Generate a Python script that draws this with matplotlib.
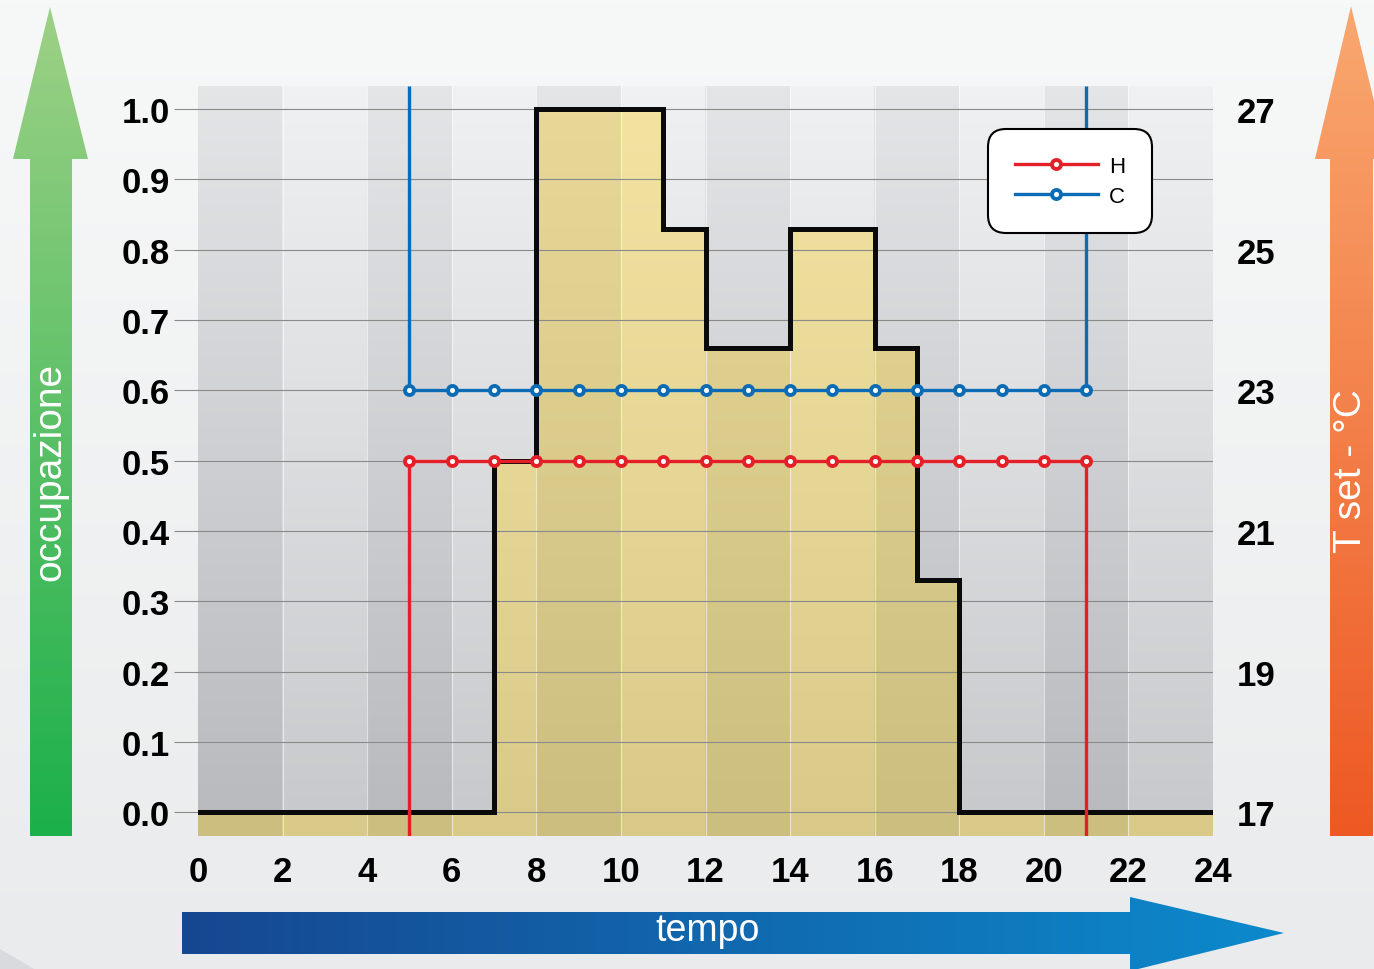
import numpy as np
import matplotlib
matplotlib.use("Agg")
import matplotlib.pyplot as plt
from matplotlib.patches import Polygon

plt.rcParams['font.family'] = ['Liberation Sans', 'DejaVu Sans']

# ---- data -------------------------------------------------------------
hours = list(range(0, 25))
occupancy = [0, 0, 0, 0, 0, 0, 0, 0.5, 1.0, 1.0, 1.0, 0.83, 0.66, 0.66,
             0.83, 0.83, 0.66, 0.33, 0, 0, 0, 0, 0, 0]
setpoint_hours = list(range(5, 22))
heat_setpoint = [22] * len(setpoint_hours)   # H
cool_setpoint = [23] * len(setpoint_hours)   # C

occ_ticks = [0.0, 0.1, 0.2, 0.3, 0.4, 0.5, 0.6, 0.7, 0.8, 0.9, 1.0]
occ_labels = ['0.0', '0.1', '0.2', '0.3', '0.4', '0.5', '0.6', '0.7', '0.8', '0.9', '1.0']
temp_ticks = [17, 19, 21, 23, 25, 27]
hour_ticks = list(range(0, 25, 2))

RED = '#e41f27'
BLUE = '#0b6bb5'

W, H = 1374, 970
fig = plt.figure(figsize=(W / 100, H / 100), dpi=100)

# ---- page background and arrows (pixel coordinates) ------------------
bg = fig.add_axes([0, 0, 1, 1])
bg.set_xlim(0, W)
bg.set_ylim(H, 0)
bg.axis('off')


def vgrad(c_top, c_bot, n=256):
    t = np.linspace(0, 1, n)[:, None]
    a = np.array(c_top, float)[None, :] / 255
    b = np.array(c_bot, float)[None, :] / 255
    return (a * (1 - t) + b * t)[:, None, :]


def hgrad(c_left, c_right, n=256):
    t = np.linspace(0, 1, n)[:, None]
    a = np.array(c_left, float)[None, :] / 255
    b = np.array(c_right, float)[None, :] / 255
    return (a * (1 - t) + b * t)[None, :, :]


bg.imshow(vgrad((247, 248, 248), (234, 235, 236)), extent=(0, W, H, 0),
          aspect='auto', zorder=0)
bg.add_patch(Polygon([(0, 950), (34, 970), (0, 970)], closed=True,
                     facecolor='#d9dadd', edgecolor='none', zorder=1))


def gradient_arrow(verts, img, extent):
    poly = Polygon(verts, closed=True, facecolor='none', edgecolor='none')
    bg.add_patch(poly)
    im = bg.imshow(img, extent=extent, aspect='auto', zorder=2,
                   interpolation='bilinear')
    im.set_clip_path(poly)


# occupancy arrow (left, green)
gradient_arrow([(30, 837), (72, 837), (72, 160), (88, 160), (50, 8),
                (13, 160), (30, 160)],
               vgrad((158, 209, 134), (27, 176, 74)), (10, 90, 837, 8))
# temperature arrow (right, orange)
gradient_arrow([(1330, 837), (1373, 837), (1373, 160), (1388, 160),
                (1351, 7), (1315, 160), (1330, 160)],
               vgrad((249, 168, 112), (238, 88, 35)), (1310, 1390, 837, 7))
# time arrow (bottom, blue)
gradient_arrow([(182, 913), (1130, 913), (1130, 898), (1284, 934),
                (1130, 972), (1130, 955), (182, 955)],
               hgrad((22, 71, 145), (12, 138, 204)), (182, 1284, 972, 898))

bg.text(50, 472, 'occupazione', rotation=90, color='white', fontsize=28,
        ha='center', va='center', zorder=3)
bg.text(1351, 471, 'T set - °C', rotation=90, color='white', fontsize=28,
        ha='center', va='center', zorder=3)
bg.text(708, 931, 'tempo', color='white', fontsize=27,
        ha='center', va='center', zorder=3)

# ---- main chart -------------------------------------------------------
y_lo, y_hi = -0.034, 1.033
ax = fig.add_axes([198 / W, (H - 837) / H, (1213 - 198) / W, (837 - 87) / H])
ax.set_facecolor('none')
ax.set_xlim(0, 24)
ax.set_ylim(y_lo, y_hi)
for s in ax.spines.values():
    s.set_visible(False)

# two-hour vertical bands, alternating darker / lighter, shaded top to bottom
n_rows = 256
t = np.linspace(0, 1, n_rows)[:, None]


def band_image(dark_top, dark_bot, light_top, light_bot):
    img = np.zeros((n_rows, 12, 3))
    for j in range(12):
        top, bot = (dark_top, dark_bot) if j % 2 == 0 else (light_top, light_bot)
        img[:, j, :] = (np.array(top) * (1 - t) + np.array(bot) * t) / 255
    return img


gray_img = band_image((228, 229, 231), (184, 185, 189),
                      (240, 241, 242), (199, 200, 203))
tan_img = band_image((233, 217, 152), (203, 190, 127),
                     (243, 228, 162), (217, 202, 138))

ax.imshow(gray_img, extent=(0, 24, y_lo, y_hi), aspect='auto',
          interpolation='nearest', zorder=0)

occ_step = occupancy + [occupancy[-1]]
area = ax.fill_between(hours, y_lo, occ_step, step='post',
                       facecolor='none', edgecolor='none', zorder=0.5)
tan = ax.imshow(tan_img, extent=(0, 24, y_lo, y_hi), aspect='auto',
                interpolation='nearest', zorder=0.6)
tan.set_clip_path(area.get_paths()[0], ax.transData)

for xb in range(2, 24, 2):
    ax.axvline(xb, color='white', lw=0.8, alpha=0.55, zorder=1)

ax.set_axisbelow(False)
ax.yaxis.grid(True, color='#8a8a8a', lw=0.8)
ax.xaxis.grid(False)

ax.step(hours, occ_step, where='post', color='#0a0a0a', lw=3.6,
        solid_joinstyle='miter', zorder=3)

ax.set_yticks(occ_ticks)
ax.set_yticklabels(occ_labels)
ax.set_xticks(hour_ticks)
ax.tick_params(axis='y', length=17.5, width=0.8, color='#8a8a8a', pad=3,
               labelsize=25)
ax.tick_params(axis='x', length=0, pad=14, labelsize=25)

# ---- temperature set points on the right scale -------------------------
ax2 = ax.twinx()
t_lo, t_hi = 17 + 10 * y_lo, 17 + 10 * y_hi
ax2.set_ylim(t_lo, t_hi)
for s in ax2.spines.values():
    s.set_visible(False)
ax2.set_yticks(temp_ticks)
ax2.tick_params(axis='y', length=0, pad=17, labelsize=25)

for lbl in ax.get_xticklabels() + ax.get_yticklabels() + ax2.get_yticklabels():
    lbl.set_fontweight('bold')

mk = dict(marker='o', markersize=6.5, markeredgewidth=2.8,
          markerfacecolor='white')
ax2.vlines([setpoint_hours[0], setpoint_hours[-1]], t_lo, heat_setpoint[0],
           color=RED, lw=2.4, zorder=2)
ax2.vlines([setpoint_hours[0], setpoint_hours[-1]], cool_setpoint[0], t_hi,
           color=BLUE, lw=2.4, zorder=2)
lh, = ax2.plot(setpoint_hours, heat_setpoint, color=RED, lw=2.4,
               markeredgecolor=RED, zorder=3, **mk)
lc, = ax2.plot(setpoint_hours, cool_setpoint, color=BLUE, lw=2.4,
               markeredgecolor=BLUE, zorder=3, **mk)

leg = ax2.legend([lh, lc], ['H', 'C'], loc='upper left',
                 bbox_to_anchor=(988 / W, 1 - 130 / H),
                 bbox_transform=fig.transFigure, borderaxespad=0,
                 fontsize=16, handlelength=3.75, handletextpad=0.5,
                 borderpad=1.2, labelspacing=0.4, numpoints=1,
                 frameon=True, fancybox=True, framealpha=1,
                 facecolor='white', edgecolor='black')
leg.get_frame().set_linewidth(1.5)
leg.get_frame().set_boxstyle('round', pad=0, rounding_size=0.8)

fig.savefig('out.png', dpi=100)
